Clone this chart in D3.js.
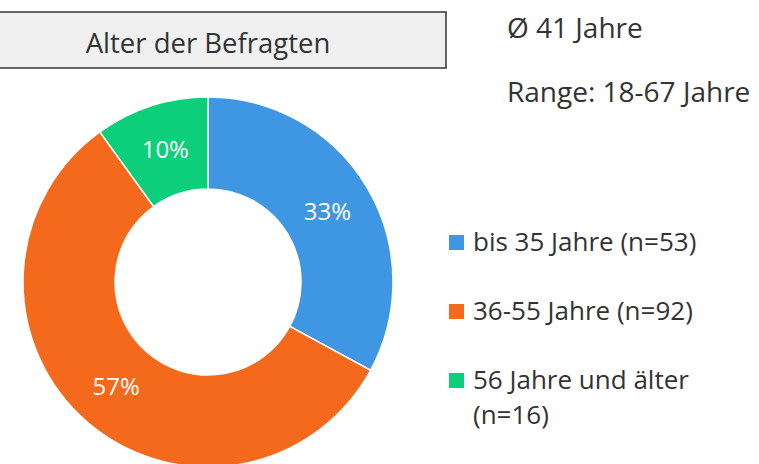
<!DOCTYPE html>
<meta charset="utf-8">
<style>
body { margin: 0; background: #fff; }
text { font-family: "Open Sans", sans-serif; }
</style>
<svg width="759" height="464"></svg>
<script src="https://cdn.jsdelivr.net/npm/d3@7"></script>
<script>

// data
var categories = ["bis 35 Jahre (n=53)", "36-55 Jahre (n=92)", "56 Jahre und älter (n=16)"],
    counts = [53, 92, 16],
    colors = ["#3f97e3", "#f4691b", "#0dce7a"],
    title = "Alter der Befragten",
    infoLines = ["Ø 41 Jahre", "Range: 18-67 Jahre"];

var svg = d3.select("svg");

// title box
svg.append("rect")
    .attr("x", -2).attr("y", 12)
    .attr("width", 448).attr("height", 56)
    .attr("fill", "#f0f0f0")
    .attr("stroke", "#333")
    .attr("stroke-width", 1.5);

svg.append("text")
    .attr("x", 208).attr("y", 53)
    .attr("text-anchor", "middle")
    .attr("fill", "#333")
    .style("font-size", "27.5px")
    .text(title);

// info text on the right
svg.selectAll(".info")
    .data(infoLines)
  .enter().append("text")
    .attr("class", "info")
    .attr("x", 507)
    .attr("y", function(d, i) { return 38 + i * 64; })
    .attr("fill", "#333")
    .style("font-size", "28px")
    .text(function(d) { return d; });

// donut
var cx = 208, cy = 282, outerR = 185, innerR = 93;
var total = d3.sum(counts);

var pie = d3.pie().sort(null).value(function(d) { return d; });
var arc = d3.arc().innerRadius(innerR).outerRadius(outerR);

var g = svg.append("g").attr("transform", "translate(" + cx + "," + cy + ")");

var slices = g.selectAll(".slice")
    .data(pie(counts))
  .enter().append("g")
    .attr("class", "slice");

slices.append("path")
    .attr("d", arc)
    .attr("fill", function(d, i) { return colors[i]; })
    .attr("stroke", "#fff")
    .attr("stroke-width", 1.5);

slices.append("text")
    .attr("transform", function(d) { return "translate(" + arc.centroid(d) + ")"; })
    .attr("text-anchor", "middle")
    .attr("dy", "0.36em")
    .attr("fill", "#fff")
    .style("font-size", "24px")
    .text(function(d) { return Math.round(d.value / total * 100) + "%"; });

// legend
var legend = svg.selectAll(".legend")
    .data(categories)
  .enter().append("g")
    .attr("class", "legend")
    .attr("transform", function(d, i) { return "translate(449," + (235 + i * 69) + ")"; });

legend.append("rect")
    .attr("width", 15).attr("height", 15)
    .attr("fill", function(d, i) { return colors[i]; });

legend.append("text")
    .attr("x", 24)
    .attr("y", 16)
    .attr("fill", "#333")
    .style("font-size", "26px")
    .each(function(d) {
      // wrap long label before the "(n=..)" part
      var parts = d.length > 22 ? [d.slice(0, d.indexOf(" (")), d.slice(d.indexOf(" (") + 1)] : [d];
      var t = d3.select(this);
      parts.forEach(function(p, j) {
        t.append("tspan").attr("x", 24).attr("dy", j ? 35 : 0).text(p);
      });
    });

</script>
